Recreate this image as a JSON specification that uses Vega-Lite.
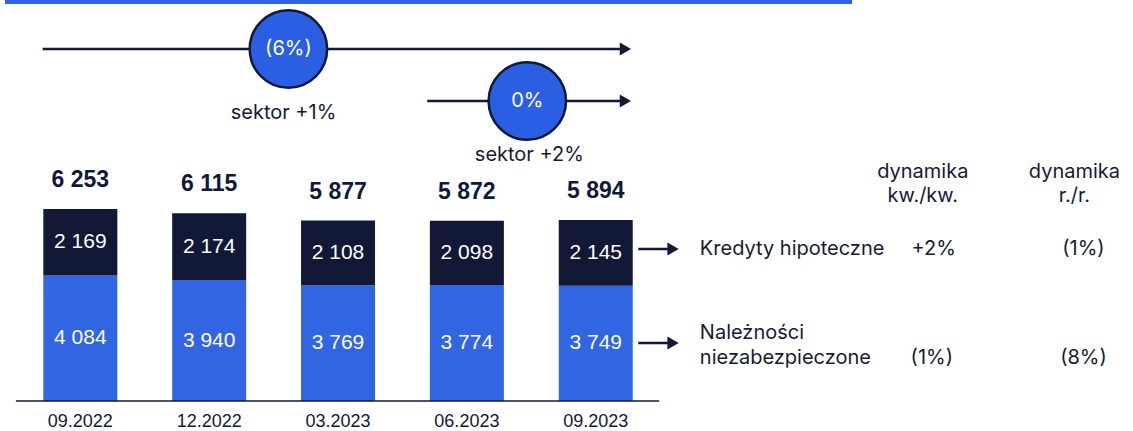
{
  "$schema": "https://vega.github.io/schema/vega-lite/v6.json",
  "width": 1133,
  "height": 431,
  "autosize": {"type": "none"},
  "padding": 0,
  "background": "white",
  "config": {
    "view": {"stroke": null},
    "locale": {"number": {"decimal": ",", "thousands": " ", "grouping": [3], "currency": ["", " zł"]}}
  },
  "datasets": {
    "bars": [
      {"date": "09.2022", "slot": 1, "segment": "Należności niezabezpieczone", "order": 1, "value": 4084},
      {"date": "09.2022", "slot": 1, "segment": "Kredyty hipoteczne", "order": 2, "value": 2169},
      {"date": "12.2022", "slot": 2, "segment": "Należności niezabezpieczone", "order": 1, "value": 3940},
      {"date": "12.2022", "slot": 2, "segment": "Kredyty hipoteczne", "order": 2, "value": 2174},
      {"date": "03.2023", "slot": 3, "segment": "Należności niezabezpieczone", "order": 1, "value": 3769},
      {"date": "03.2023", "slot": 3, "segment": "Kredyty hipoteczne", "order": 2, "value": 2108},
      {"date": "06.2023", "slot": 4, "segment": "Należności niezabezpieczone", "order": 1, "value": 3774},
      {"date": "06.2023", "slot": 4, "segment": "Kredyty hipoteczne", "order": 2, "value": 2098},
      {"date": "09.2023", "slot": 5, "segment": "Należności niezabezpieczone", "order": 1, "value": 3749},
      {"date": "09.2023", "slot": 5, "segment": "Kredyty hipoteczne", "order": 2, "value": 2145}
    ],
    "totals": [
      {"date": "09.2022", "slot": 1, "total": 6253},
      {"date": "12.2022", "slot": 2, "total": 6115},
      {"date": "03.2023", "slot": 3, "total": 5877},
      {"date": "06.2023", "slot": 4, "total": 5872},
      {"date": "09.2023", "slot": 5, "total": 5894}
    ],
    "lines": [
      {"x": 0.708, "x2": 5.22, "y": 11462},
      {"x": 3.692, "x2": 5.22, "y": 9769},
      {"x": 5.33, "x2": 5.6, "y": 4950},
      {"x": 5.33, "x2": 5.6, "y": 1889}
    ],
    "heads": [
      {"x": 5.23, "y": 11462},
      {"x": 5.23, "y": 9769},
      {"x": 5.6, "y": 4950},
      {"x": 5.6, "y": 1889}
    ],
    "circles": [
      {"x": 2.615, "y": 11462, "label": "(6%)"},
      {"x": 4.469, "y": 9769, "label": "0%"}
    ],
    "centerTexts": [
      {"x": 2.577, "y": 9378, "text": "sektor +1%"},
      {"x": 4.485, "y": 8010, "text": "sektor +2%"},
      {"x": 7.538, "y": 7457, "text": "dynamika"},
      {"x": 7.538, "y": 6675, "text": "kw./kw."},
      {"x": 8.715, "y": 7457, "text": "dynamika"},
      {"x": 8.715, "y": 6675, "text": "r./r."},
      {"x": 7.623, "y": 4950, "text": "+2%"},
      {"x": 8.785, "y": 4950, "text": "(1%)"},
      {"x": 7.608, "y": 1400, "text": "(1%)"},
      {"x": 8.785, "y": 1400, "text": "(8%)"}
    ],
    "leftTexts": [
      {"x": 5.808, "y": 4950, "text": "Kredyty hipoteczne"},
      {"x": 5.808, "y": 2214, "text": "Należności"},
      {"x": 5.808, "y": 1400, "text": "niezabezpieczone"}
    ],
    "baseline": [{"x": 0.5, "x2": 5.492, "y": 0}],
    "band": [{"x": 0.4154, "x2": 6.99, "y": 12992}]
  },
  "layer": [
    {
      "data": {"name": "band"},
      "mark": {"type": "rule", "color": "#2f63e3", "strokeWidth": 4, "strokeCap": "butt"},
      "encoding": {
        "x": {"field": "x", "type": "quantitative", "scale": {"domain": [0.4154, 9.1308], "nice": false, "zero": false}, "axis": null},
        "x2": {"field": "x2"},
        "y": {"field": "y", "type": "quantitative", "scale": {"domain": [-977, 13058], "nice": false, "zero": false}, "axis": null}
      }
    },
    {
      "data": {"name": "lines"},
      "mark": {"type": "rule", "color": "#111936", "strokeWidth": 2.5},
      "encoding": {
        "x": {"field": "x", "type": "quantitative"},
        "x2": {"field": "x2"},
        "y": {"field": "y", "type": "quantitative"}
      }
    },
    {
      "data": {"name": "heads"},
      "mark": {"type": "point", "shape": "triangle-right", "filled": true, "color": "#111936", "size": 170, "opacity": 1},
      "encoding": {
        "x": {"field": "x", "type": "quantitative"},
        "y": {"field": "y", "type": "quantitative"}
      }
    },
    {
      "data": {"name": "circles"},
      "mark": {"type": "point", "shape": "circle", "filled": true, "fill": "#2b5fe3", "stroke": "#111936", "strokeWidth": 2.5, "size": 6000, "opacity": 1},
      "encoding": {
        "x": {"field": "x", "type": "quantitative"},
        "y": {"field": "y", "type": "quantitative"}
      }
    },
    {
      "data": {"name": "circles"},
      "mark": {"type": "text", "color": "white", "font": "Inter", "fontSize": 20, "baseline": "middle", "align": "center"},
      "encoding": {
        "x": {"field": "x", "type": "quantitative"},
        "y": {"field": "y", "type": "quantitative"},
        "text": {"field": "label"}
      }
    },
    {
      "data": {"name": "bars"},
      "mark": {"type": "bar", "width": 74},
      "encoding": {
        "x": {"field": "slot", "type": "quantitative"},
        "y": {"field": "value", "type": "quantitative", "stack": "zero"},
        "order": {"field": "order"},
        "color": {"field": "segment", "type": "nominal", "scale": {"domain": ["Należności niezabezpieczone", "Kredyty hipoteczne"], "range": ["#3165e1", "#111936"]}, "legend": null}
      }
    },
    {
      "data": {"name": "bars"},
      "transform": [
        {"stack": "value", "groupby": ["slot"], "sort": [{"field": "order"}], "as": ["v0", "v1"]},
        {"calculate": "(datum.v0 + datum.v1) / 2", "as": "mid"}
      ],
      "mark": {"type": "text", "color": "white", "font": "Liberation Sans", "fontSize": 21, "baseline": "middle", "align": "center"},
      "encoding": {
        "x": {"field": "slot", "type": "quantitative"},
        "y": {"field": "mid", "type": "quantitative"},
        "text": {"field": "value", "type": "quantitative", "format": ",d"}
      }
    },
    {
      "data": {"name": "totals"},
      "mark": {"type": "text", "color": "#111936", "font": "Liberation Sans", "fontSize": 23, "fontWeight": "bold", "baseline": "middle", "align": "center", "dy": -29},
      "encoding": {
        "x": {"field": "slot", "type": "quantitative"},
        "y": {"field": "total", "type": "quantitative"},
        "text": {"field": "total", "type": "quantitative", "format": ",d"}
      }
    },
    {
      "data": {"name": "totals"},
      "mark": {"type": "text", "color": "#111936", "font": "Liberation Sans", "fontSize": 18, "baseline": "middle", "align": "center", "dy": 21},
      "encoding": {
        "x": {"field": "slot", "type": "quantitative"},
        "y": {"datum": 0, "type": "quantitative"},
        "text": {"field": "date"}
      }
    },
    {
      "data": {"name": "baseline"},
      "mark": {"type": "rule", "color": "#111936", "strokeWidth": 1.5},
      "encoding": {
        "x": {"field": "x", "type": "quantitative"},
        "x2": {"field": "x2"},
        "y": {"field": "y", "type": "quantitative"}
      }
    },
    {
      "data": {"name": "centerTexts"},
      "mark": {"type": "text", "color": "#141b34", "font": "Inter", "fontSize": 20, "baseline": "middle", "align": "center"},
      "encoding": {
        "x": {"field": "x", "type": "quantitative"},
        "y": {"field": "y", "type": "quantitative"},
        "text": {"field": "text"}
      }
    },
    {
      "data": {"name": "leftTexts"},
      "mark": {"type": "text", "color": "#141b34", "font": "Inter", "fontSize": 20, "baseline": "middle", "align": "left"},
      "encoding": {
        "x": {"field": "x", "type": "quantitative"},
        "y": {"field": "y", "type": "quantitative"},
        "text": {"field": "text"}
      }
    }
  ]
}
